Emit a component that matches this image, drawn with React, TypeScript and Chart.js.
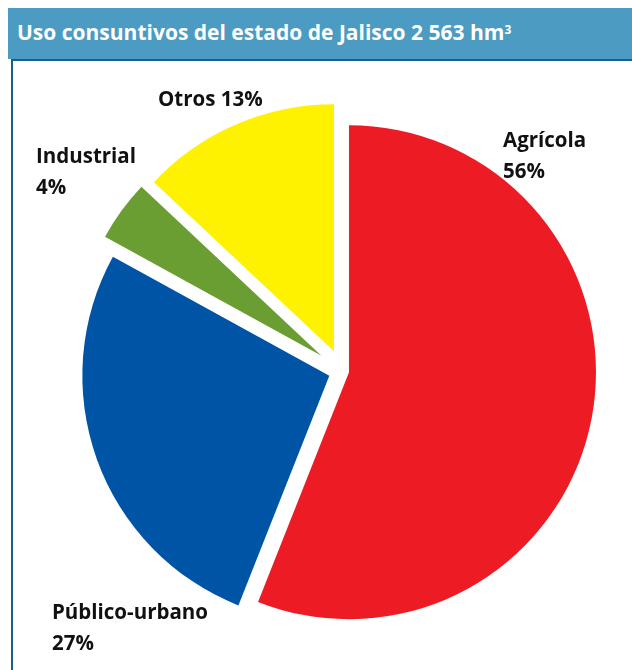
import React, { useEffect, useRef } from "react";
import { Chart, registerables } from "chart.js";

Chart.register(...registerables);

const categories = ["Agrícola", "Público-urbano", "Industrial", "Otros"];
const values = [56, 27, 4, 13];
const percentLabels = ["56%", "27%", "4%", "13%"];
const titleText = "Uso consuntivos del estado de Jalisco 2 563 hm";

const colors = ["#ed1c24", "#0054a6", "#6b9e32", "#fff200"];
const explode = [6.6, 14, 26, 21.5];

const labelFont = "bold 20.5px 'Open Sans', 'Noto Sans', sans-serif";

const explodePlugin = {
  id: "explodeSlices",
  afterDatasetUpdate(chart: any, args: any) {
    const meta = args.meta;
    meta.data.forEach((arc: any, i: number) => {
      const mid = (arc.startAngle + arc.endAngle) / 2;
      const d = explode[i] || 0;
      arc.x += Math.cos(mid) * d;
      arc.y += Math.sin(mid) * d;
    });
  },
};

const labelPlugin = {
  id: "sliceLabels",
  afterDraw(chart: any) {
    const ctx = chart.ctx as CanvasRenderingContext2D;
    ctx.save();
    ctx.fillStyle = "#111111";
    ctx.font = labelFont;
    ctx.textBaseline = "alphabetic";
    ctx.textAlign = "left";
    // Agrícola
    ctx.fillText(categories[0], 503, 147);
    ctx.fillText(percentLabels[0], 503, 178);
    // Público-urbano
    ctx.fillText(categories[1], 52, 619);
    ctx.fillText(percentLabels[1], 52, 650);
    // Industrial
    ctx.fillText(categories[2], 36, 163);
    ctx.fillText(percentLabels[2], 36, 194);
    // Otros
    ctx.fillText(categories[3] + " " + percentLabels[3], 158, 106);
    ctx.restore();
  },
};

export default function App() {
  const ref = useRef<HTMLCanvasElement | null>(null);

  useEffect(() => {
    if (!ref.current) return;
    const chart = new Chart(ref.current, {
      type: "pie",
      data: {
        labels: categories,
        datasets: [
          {
            data: values,
            backgroundColor: colors,
            borderWidth: 0,
            radius: 247,
          } as any,
        ],
      },
      options: {
        animation: false,
        responsive: false,
        events: [],
        radius: 247,
        layout: { padding: { left: 53, right: 0, top: 72, bottom: 0 } },
        plugins: {
          legend: { display: false },
          tooltip: { enabled: false },
        },
      } as any,
      plugins: [explodePlugin, labelPlugin],
    });
    return () => chart.destroy();
  }, []);

  return (
    <div
      style={{
        position: "fixed",
        left: 0,
        top: 0,
        width: 632,
        height: 670,
        overflow: "hidden",
        background: "#ffffff",
      }}
    >
      <div
        style={{
          position: "absolute",
          left: 8,
          top: 8,
          width: 624,
          height: 51,
          background: "#4b9bc2",
        }}
      />
      <div
        style={{
          position: "absolute",
          left: 11,
          top: 59,
          width: 621,
          height: 2,
          background: "#1b5e8b",
        }}
      />
      <div
        style={{
          position: "absolute",
          left: 11,
          top: 59,
          width: 2,
          height: 611,
          background: "#1b5e8b",
        }}
      />
      <div
        style={{
          position: "absolute",
          left: 17,
          top: 18,
          color: "#ffffff",
          fontFamily: "'Open Sans', 'Noto Sans', sans-serif",
          fontWeight: 700,
          fontSize: 21,
          lineHeight: "28px",
          whiteSpace: "nowrap",
        }}
      >
        {titleText}
        <sup style={{ fontSize: 12, verticalAlign: "top", position: "relative", top: -2 }}>3</sup>
      </div>
      <canvas
        ref={ref}
        width={632}
        height={670}
        style={{ position: "absolute", left: 0, top: 0, width: 632, height: 670 }}
      />
    </div>
  );
}
